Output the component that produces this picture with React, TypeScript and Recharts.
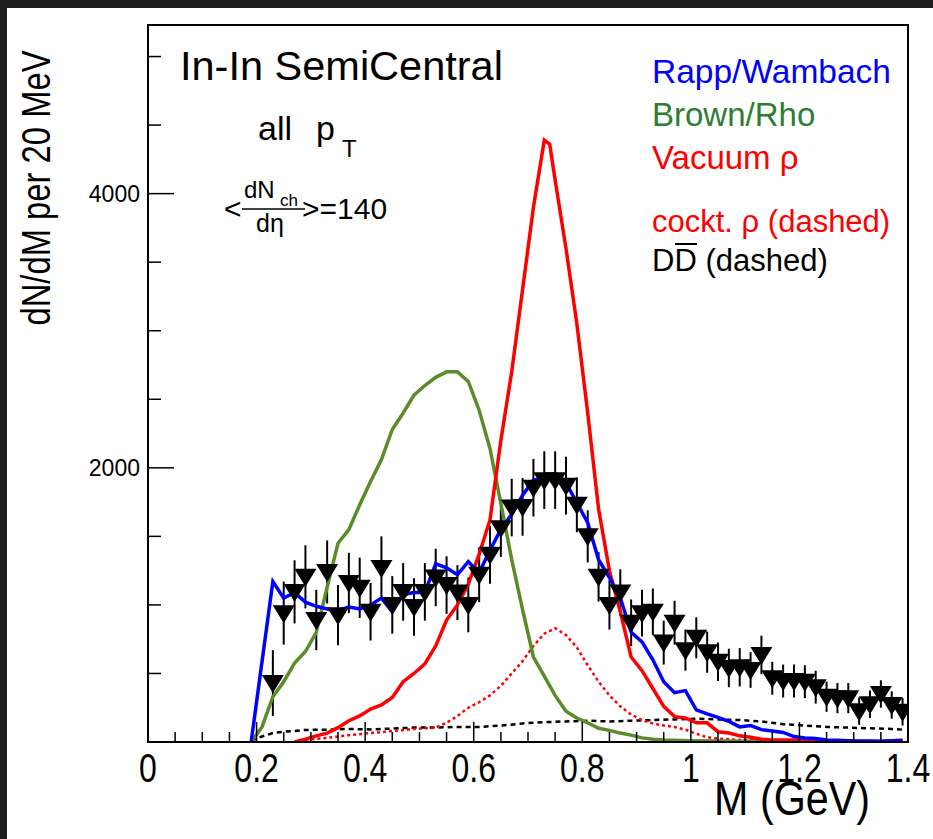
import React from "react";
import { ComposedChart, Line, Scatter, ErrorBar, XAxis, YAxis, ReferenceArea } from "recharts";

// measured dimuon excess, 20 MeV bins
const dataM = [
  0.23, 0.25, 0.27, 0.29, 0.31, 0.33, 0.35, 0.37, 0.39, 0.41, 0.43, 0.45, 0.47, 0.49, 0.51,
  0.53, 0.55, 0.57, 0.59, 0.61, 0.63, 0.65, 0.67, 0.69, 0.71, 0.73, 0.75, 0.77, 0.79, 0.81,
  0.83, 0.85, 0.87, 0.89, 0.91, 0.93, 0.95, 0.97, 0.99, 1.01, 1.03, 1.05, 1.07, 1.09, 1.11,
  1.13, 1.15, 1.17, 1.19, 1.21, 1.23, 1.25, 1.27, 1.29, 1.31, 1.33, 1.35, 1.37, 1.39,
];
const dataV = [
  430, 940, 1095, 1205, 890, 1240, 925, 1160, 1125, 950, 1270, 1000, 1095, 985, 1095,
  1200, 1145, 1090, 1000, 1220, 1365, 1560, 1710, 1715, 1855, 1910, 1910, 1870, 1730, 1500,
  1205, 1000, 1090, 870, 940, 950, 725, 870, 670, 760, 655, 585, 540, 545, 525,
  635, 465, 445, 445, 440, 400, 330, 320, 320, 225, 275, 350, 270, 220,
];
const dataErr = [
  240, 230, 230, 230, 220, 230, 220, 220, 220, 210, 230, 210, 210, 210, 210,
  210, 210, 200, 200, 200, 210, 210, 210, 210, 210, 210, 210, 210, 200, 190,
  180, 180, 170, 170, 170, 170, 160, 160, 150, 150, 150, 140, 140, 140, 130,
  140, 120, 120, 120, 120, 120, 110, 110, 110, 100, 100, 100, 100, 100,
];

// Rapp/Wambach
const rappM = [
  0.19, 0.23, 0.25, 0.27, 0.29, 0.31, 0.33, 0.35, 0.37, 0.39, 0.41, 0.43, 0.45, 0.47, 0.49,
  0.51, 0.53, 0.55, 0.57, 0.59, 0.61, 0.63, 0.65, 0.67, 0.69, 0.71, 0.73, 0.75, 0.77, 0.79,
  0.81, 0.83, 0.85, 0.87, 0.89, 0.91, 0.93, 0.95, 0.97, 0.99, 1.01, 1.03, 1.05, 1.07, 1.09,
  1.11, 1.13, 1.15, 1.17, 1.19, 1.21, 1.23, 1.25, 1.27, 1.29, 1.31, 1.33, 1.35, 1.37, 1.39,
];
const rappV = [
  0, 1170, 1050, 1090, 1020, 990, 970, 960, 985, 970, 1000, 1050, 950, 1075, 1090,
  1090, 1300, 1270, 1220, 1315, 1235, 1400, 1550, 1660, 1800, 1910, 1925, 1960, 1890, 1745,
  1600, 1330, 1200, 1050, 800, 730, 600, 440, 360, 375, 235, 205, 180, 150, 110,
  120, 90, 80, 70, 40, 30, 25, 15, 12, 10, 8, 8, 6, 10, 10,
];

// Brown/Rho
const brownM = [
  0.19, 0.21, 0.23, 0.25, 0.27, 0.29, 0.31, 0.33, 0.35, 0.37, 0.39, 0.41, 0.43, 0.45, 0.47,
  0.49, 0.51, 0.53, 0.55, 0.57, 0.59, 0.61, 0.63, 0.65, 0.67, 0.69, 0.71, 0.73, 0.75, 0.77,
  0.79, 0.81, 0.83, 0.85, 0.87, 0.89, 0.91, 0.93, 0.95, 1.0, 1.1, 1.2, 1.3,
];
const brownV = [
  0, 110, 330, 440, 575, 660, 800, 1130, 1450, 1550, 1730, 1900, 2060, 2280, 2400,
  2530, 2600, 2660, 2700, 2700, 2630, 2420, 2140, 1740, 1330, 965, 620, 480, 340, 225,
  175, 140, 100, 85, 65, 50, 30, 20, 15, 10, 5, 4, 3,
];

// vacuum rho
const vacM = [
  0.27, 0.29, 0.31, 0.33, 0.35, 0.37, 0.39, 0.41, 0.43, 0.45, 0.47, 0.49, 0.51, 0.53, 0.55,
  0.57, 0.59, 0.61, 0.63, 0.65, 0.67, 0.69, 0.71, 0.73, 0.74, 0.75, 0.77, 0.79, 0.81, 0.83,
  0.85, 0.87, 0.89, 0.91, 0.93, 0.95, 0.97, 0.99, 1.01, 1.03, 1.05, 1.07, 1.09, 1.11, 1.13,
  1.15, 1.19, 1.23, 1.27, 1.31, 1.35, 1.39,
];
const vacV = [
  0, 20, 45, 65, 105, 155, 190, 240, 270, 325, 440, 500, 570, 700, 890,
  1000, 1150, 1370, 1620, 2200, 2700, 3300, 3900, 4390, 4360, 4100, 3600, 3050, 2400, 1700,
  1250, 950, 620, 520, 390, 260, 185, 175, 140, 140, 75, 65, 45, 35, 20,
  15, 15, 8, 5, 3, 3, 15,
];

// cocktail rho (dotted)
const cockM = [
  0.29, 0.33, 0.37, 0.41, 0.45, 0.49, 0.53, 0.55, 0.57, 0.59, 0.61, 0.63, 0.65, 0.67, 0.69,
  0.71, 0.73, 0.75, 0.77, 0.79, 0.81, 0.83, 0.85, 0.87, 0.89, 0.91, 0.93, 0.95, 0.97, 0.99,
  1.01, 1.03, 1.05, 1.09, 1.15, 1.25, 1.39,
];
const cockV = [
  15, 30, 50, 65, 80, 95, 105, 140, 190, 250, 290, 340, 410, 500, 590,
  700, 790, 830, 780, 690, 560, 440, 340, 260, 200, 160, 135, 120, 110, 90,
  60, 35, 25, 15, 8, 5, 3,
];

// open charm (dashed)
const ddM = [
  0.19, 0.21, 0.23, 0.25, 0.27, 0.29, 0.33, 0.37, 0.41, 0.45, 0.49, 0.53, 0.57, 0.61, 0.65,
  0.69, 0.73, 0.77, 0.81, 0.85, 0.89, 0.93, 0.97, 1.01, 1.05, 1.09, 1.13, 1.17, 1.21, 1.25,
  1.29, 1.33, 1.37, 1.39,
];
const ddV = [
  10, 40, 65, 75, 80, 88, 90, 95, 92, 98, 105, 105, 110, 110, 120,
  135, 145, 150, 155, 150, 155, 160, 165, 170, 165, 160, 150, 130, 120, 110,
  105, 100, 95, 90,
];

const xTicks = [
  0, 0.05, 0.1, 0.15, 0.2, 0.25, 0.3, 0.35, 0.4, 0.45, 0.5, 0.55, 0.6, 0.65, 0.7,
  0.75, 0.8, 0.85, 0.9, 0.95, 1, 1.05, 1.1, 1.15, 1.2, 1.25, 1.3, 1.35, 1.4,
];
const xLabels = ["0", "0.2", "0.4", "0.6", "0.8", "1", "1.2", "1.4"];
const yTicks = [0, 500, 1000, 1500, 2000, 2500, 3000, 3500, 4000, 4500, 5000];
const yLabels = ["2000", "4000"];

const zip = (m: number[], v: number[]) => m.map((x, i) => ({ m: x, v: v[i] }));

const points = dataM.map((x, i) => ({ m: x, v: dataV[i], err: dataErr[i] }));

const SANS = "'Liberation Sans', Arial, Helvetica, sans-serif";

const XTick = (props: any) => {
  const { x, y, payload } = props;
  const v = payload.value;
  const tenths = Math.round(v * 10);
  const major = Math.abs(v * 10 - tenths) < 1e-6 && tenths % 2 === 0;
  const label = String(tenths / 10);
  return (
    <g>
      <line x1={x} y1={y} x2={x} y2={y - (major ? 20 : 10)} stroke="#000" strokeWidth={1.5} />
      {major && xLabels.includes(label) && (
        <text
          transform={`translate(${x},${y + 40}) scale(0.8,1)`}
          textAnchor="middle"
          fontFamily={SANS}
          fontSize={40}
          fill="#000"
        >
          {label}
        </text>
      )}
    </g>
  );
};

const YTick = (props: any) => {
  const { x, y, payload } = props;
  const label = String(payload.value);
  const major = payload.value % 2000 === 0;
  return (
    <g>
      <line x1={x} y1={y} x2={x + (major ? 26 : 13)} y2={y} stroke="#000" strokeWidth={1.5} />
      {yLabels.includes(label) && (
        <text x={x - 8} y={y + 8} textAnchor="end" fontFamily={SANS} fontSize={23} fill="#000">
          {label}
        </text>
      )}
    </g>
  );
};

const Triangle = (props: any) => {
  const { cx, cy } = props;
  return <polygon points={`${cx - 11},${cy - 8} ${cx + 11},${cy - 8} ${cx},${cy + 10}`} fill="#000" />;
};

export default function App() {
  return (
    <div style={{ position: "fixed", left: 0, top: 0, width: 933, height: 839, background: "#fff", overflow: "hidden" }}>
      <ComposedChart width={933} height={839} margin={{ top: 25, right: 25, bottom: 0, left: 88 }}>
        <XAxis
          type="number"
          dataKey="m"
          domain={[0, 1.4]}
          ticks={xTicks}
          interval={0}
          tickSize={0}
          tickMargin={0}
          tickLine={false}
          tick={(p: any) => <XTick {...p} />}
          axisLine={{ stroke: "#000", strokeWidth: 2 }}
          height={97}
          allowDataOverflow
        />
        <YAxis
          type="number"
          domain={[0, 5230]}
          ticks={yTicks}
          interval={0}
          tickSize={0}
          tickMargin={0}
          tickLine={false}
          tick={(p: any) => <YTick {...p} />}
          axisLine={{ stroke: "#000", strokeWidth: 2 }}
          width={60}
          allowDataOverflow
        />
        <ReferenceArea x1={0} x2={1.4} y1={0} y2={5230} fill="none" stroke="#000" strokeWidth={2} ifOverflow="visible" />
        <Scatter data={points} dataKey="v" shape={Triangle} isAnimationActive={false}>
          <ErrorBar dataKey="err" direction="y" width={0} stroke="#000" strokeWidth={2} />
        </Scatter>
        <Line data={zip(ddM, ddV)} dataKey="v" type="linear" stroke="#000" strokeWidth={2.5} strokeDasharray="5 4" dot={false} isAnimationActive={false} />
        <Line data={zip(cockM, cockV)} dataKey="v" type="linear" stroke="#ff0000" strokeWidth={2.5} strokeDasharray="3 3" dot={false} isAnimationActive={false} />
        <Line data={zip(brownM, brownV)} dataKey="v" type="linear" stroke="#5b8c2a" strokeWidth={3.5} dot={false} isAnimationActive={false} />
        <Line data={zip(vacM, vacV)} dataKey="v" type="linear" stroke="#ff0000" strokeWidth={3.5} dot={false} isAnimationActive={false} />
        <Line data={zip(rappM, rappV)} dataKey="v" type="linear" stroke="#0000ff" strokeWidth={3.5} dot={false} isAnimationActive={false} />
      </ComposedChart>

      <svg width={933} height={839} style={{ position: "absolute", left: 0, top: 0, pointerEvents: "none" }}>
        <text x={180} y={80} fontFamily={SANS} fontSize={41.5} fill="#000">In-In SemiCentral</text>
        <text x={258} y={140} fontFamily={SANS} fontSize={34} fill="#000">all</text>
        <text x={316} y={140} fontFamily={SANS} fontSize={34} fill="#000">p</text>
        <text x={342} y={157} fontFamily={SANS} fontSize={24} fill="#000">T</text>

        <text x={224} y={219} fontFamily={SANS} fontSize={30} fill="#000">&lt;</text>
        <text x={244} y={198} fontFamily={SANS} fontSize={24} fill="#000">dN</text>
        <text x={280} y={206} fontFamily={SANS} fontSize={17} fill="#000">ch</text>
        <line x1={242} y1={209} x2={305} y2={209} stroke="#000" strokeWidth={1.5} />
        <text x={256} y={232} fontFamily={SANS} fontSize={25} fill="#000">dη</text>
        <text x={302} y={219} fontFamily={SANS} fontSize={30} fill="#000">&gt;=140</text>

        <text x={652} y={83} fontFamily={SANS} fontSize={33.5} fill="#0000ff">Rapp/Wambach</text>
        <text x={652} y={126} fontFamily={SANS} fontSize={33} fill="#2e7d32">Brown/Rho</text>
        <text x={652} y={169} fontFamily={SANS} fontSize={33} fill="#ff0000">Vacuum ρ</text>
        <text x={652} y={232} fontFamily={SANS} fontSize={31} fill="#ff0000">cockt. ρ (dashed)</text>
        <text x={652} y={271} fontFamily={SANS} fontSize={31} fill="#000">DD (dashed)</text>
        <line x1={675} y1={244} x2={697} y2={244} stroke="#000" strokeWidth={2} />

        <text
          transform="translate(870,815) scale(0.86,1)"
          textAnchor="end"
          fontFamily={SANS}
          fontSize={48}
          fill="#000"
        >
          M (GeV)
        </text>
        <text
          transform="translate(50,188) rotate(-90) scale(0.82,1)"
          textAnchor="middle"
          fontFamily={SANS}
          fontSize={40}
          fill="#000"
        >
          dN/dM per 20 MeV
        </text>
      </svg>

      <div style={{ position: "absolute", left: 0, top: 0, width: 933, height: 8, background: "#1e1e1e" }} />
      <div style={{ position: "absolute", left: 0, top: 0, width: 7, height: 839, background: "#1e1e1e" }} />
    </div>
  );
}
